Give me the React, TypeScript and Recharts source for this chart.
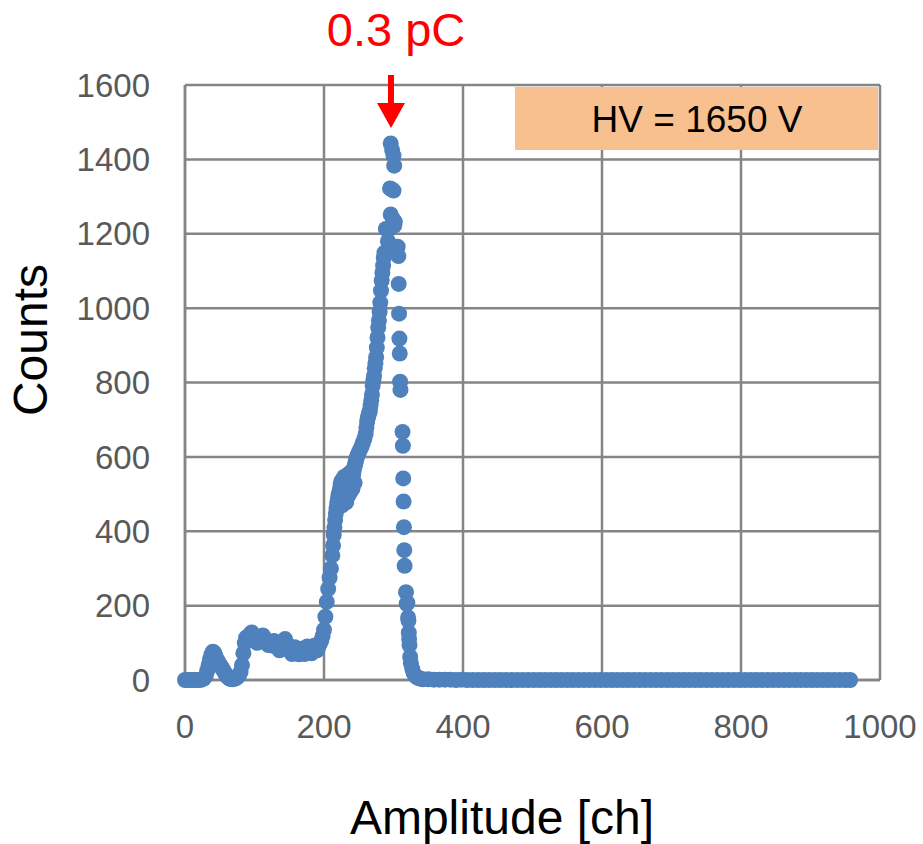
import { ScatterChart, Scatter, XAxis, YAxis, CartesianGrid } from "recharts";

// spectrum values, split by region
const baseChannels = [
  0, 4, 8, 12, 16, 20, 24, 27, 30, 32, 34, 36, 38, 40, 42, 44, 46, 48, 50, 52, 54, 56, 58, 60, 62, 64,
  66, 68, 70, 72, 74, 76, 78, 80, 82, 84, 86, 88, 90, 92, 94, 96, 98, 100, 102, 104, 106, 108, 110,
  112, 114, 116, 118, 120, 122, 124, 126, 128, 130, 132, 134, 136, 138, 140, 142, 144, 146, 148, 150,
  152, 154, 156, 158, 160, 162, 164, 166, 168, 170, 172, 174, 176, 178, 180, 182, 184, 186, 188, 190,
  192, 194, 196, 198,
];
const baseCounts = [
  0, 0, 0, 0, 0, 0, 1, 4, 12, 25, 40, 56, 68, 76, 73, 64, 55, 48, 42, 36, 30, 24, 17, 11, 7, 4,
  3, 2, 3, 4, 6, 9, 14, 22, 40, 72, 100, 114, 110, 118, 124, 128, 121, 113, 106, 100, 104, 111, 116,
  120, 113, 106, 100, 94, 101, 93, 99, 105, 100, 92, 86, 80, 89, 97, 105, 110, 100, 91, 84,
  76, 70, 79, 88, 81, 74, 69, 77, 84, 75, 70, 80, 90, 84, 77, 72, 82, 92, 86, 80,
  90, 98, 106, 118,
];

const riseChannels = [
  200, 202, 204, 206, 208, 210, 212, 213, 214, 215, 216, 217, 218, 219, 220, 221, 222, 223, 224, 225,
  226, 227, 228, 229, 230, 231, 232, 233, 234, 235, 236, 237, 238, 239, 240, 241, 242, 243, 244, 245,
  246, 247, 248, 250, 252, 254, 256, 258, 260, 261, 262, 263, 264, 265, 266, 267, 268, 269, 270, 271,
  272, 273, 274, 275, 276, 277, 278, 279, 280, 281, 282, 283, 284, 285, 286, 287, 289,
  226, 229, 232, 235, 238, 241, 244,
];
const riseCounts = [
  135, 170, 210, 245, 275, 300, 335, 362, 390, 410, 430, 448, 462, 476, 488, 498, 505, 515, 525, 535,
  512, 538, 522, 546, 518, 540, 528, 550, 526, 542, 555, 534, 546, 558, 545, 562, 552, 566, 574, 582,
  590, 597, 604, 612, 620, 628, 638, 648, 662, 678, 694, 704, 712, 718, 724, 738, 752, 768, 792, 805,
  818, 838, 852, 868, 894, 921, 948, 967, 990, 1015, 1047, 1074, 1095, 1114, 1135, 1149, 1213,
  470, 485, 478, 496, 505, 515, 530,
];

const peakChannels = [292, 294, 295, 296, 296, 297, 298, 299, 300, 300, 301, 301, 302];
const peakCounts = [1180, 1213, 1322, 1443, 1252, 1320, 1425, 1240, 1410, 1316, 1383, 1222, 1232];

const fallChannels = [
  306, 307, 307.5, 308, 308.5, 309, 309.5, 310, 313, 313.5, 314, 314.5, 315, 315.5, 316, 318, 319,
  320, 321, 321.5, 322, 322.5, 323, 324, 325, 327, 329, 332, 335, 338,
];
const fallCounts = [
  1165, 1140, 1065, 985, 918, 878, 802, 780, 667, 630, 542, 480, 411, 349, 307, 236, 205,
  207, 168, 160, 127, 110, 94, 62, 45, 30, 18, 10, 6, 4,
];

const tailChannels = [
  342, 350, 358, 366, 374, 382, 390, 398, 406, 414, 422, 430, 438, 446, 454, 462, 470, 478, 486, 494,
  502, 510, 518, 526, 534, 542, 550, 558, 566, 574, 582, 590, 598, 606, 614, 622, 630, 638, 646, 654,
  662, 670, 678, 686, 694, 702, 710, 718, 726, 734, 742, 750, 758, 766, 774, 782, 790, 798, 806, 814,
  822, 830, 838, 846, 854, 862, 870, 878, 886, 894, 902, 910, 918, 926, 934, 942, 950, 957,
];
const tailCounts = [
  2, 2, 1, 1, 1, 1, 0, 1, 0, 0, 0, 0, 0, 0, 0, 0, 0, 0, 0, 0,
  0, 0, 0, 0, 0, 0, 0, 0, 0, 0, 0, 0, 0, 0, 0, 0, 0, 0, 0, 0,
  0, 0, 0, 0, 0, 0, 0, 0, 0, 0, 0, 0, 0, 0, 0, 0, 0, 0, 0, 0,
  0, 0, 0, 0, 0, 0, 0, 0, 0, 0, 0, 0, 0, 0, 0, 0, 0, 0,
];

const xTicks = [0, 200, 400, 600, 800, 1000];
const yTicks = [0, 200, 400, 600, 800, 1000, 1200, 1400, 1600];

const zip = (chs: number[], cts: number[]) => chs.map((ch, i) => ({ ch, count: cts[i] }));

const data = [
  ...zip(baseChannels, baseCounts),
  ...zip(riseChannels, riseCounts),
  ...zip(peakChannels, peakCounts),
  ...zip(fallChannels, fallCounts),
  ...zip(tailChannels, tailCounts),
];

const font = '"Liberation Sans", Arial, sans-serif';
const grid = "#858585";

const Dot = (props: any) => <circle cx={props.cx} cy={props.cy} r={8} fill="#4F81BD" />;

export default function App() {
  return (
    <div style={{ position: "absolute", left: 0, top: 0, width: 923, height: 844, background: "#fff" }}>
      <ScatterChart width={923} height={844} margin={{ top: 85, right: 43, left: 0, bottom: 0 }}>
        <CartesianGrid stroke={grid} strokeWidth={2.5} />
        <XAxis
          type="number"
          dataKey="ch"
          domain={[0, 1000]}
          ticks={xTicks}
          interval={0}
          height={164}
          tickLine={false}
          axisLine={{ stroke: grid, strokeWidth: 2.5 }}
          tickMargin={29}
          tick={{ fill: "#595959", fontSize: 33, fontFamily: font }}
        />
        <YAxis
          type="number"
          dataKey="count"
          domain={[0, 1600]}
          ticks={yTicks}
          interval={0}
          width={185}
          tickLine={false}
          axisLine={{ stroke: grid, strokeWidth: 2.5 }}
          tickMargin={29}
          tick={{ fill: "#595959", fontSize: 33, fontFamily: font }}
        />
        <Scatter data={data} shape={Dot} isAnimationActive={false} />
      </ScatterChart>

      <svg
        width={923}
        height={844}
        style={{ position: "absolute", left: 0, top: 0, pointerEvents: "none" }}
        fontFamily={font}
      >
        <rect x={515} y={87} width={363} height={63} fill="#F9C08F" />
        <text x={697} y={132} textAnchor="middle" fontSize={37} fill="#000">
          HV = 1650 V
        </text>
        <text x={396} y={46} textAnchor="middle" fontSize={47} fill="#FF0000">
          0.3 pC
        </text>
        <line x1={391} y1={75} x2={391} y2={106} stroke="#FF0000" strokeWidth={6} />
        <polygon points="377,103 405,103 391,128" fill="#FF0000" />
        <text x={502} y={834} textAnchor="middle" fontSize={48} fill="#000">
          Amplitude [ch]
        </text>
        <text transform="translate(47,340) rotate(-90)" textAnchor="middle" fontSize={48} fill="#000">
          Counts
        </text>
      </svg>
    </div>
  );
}
